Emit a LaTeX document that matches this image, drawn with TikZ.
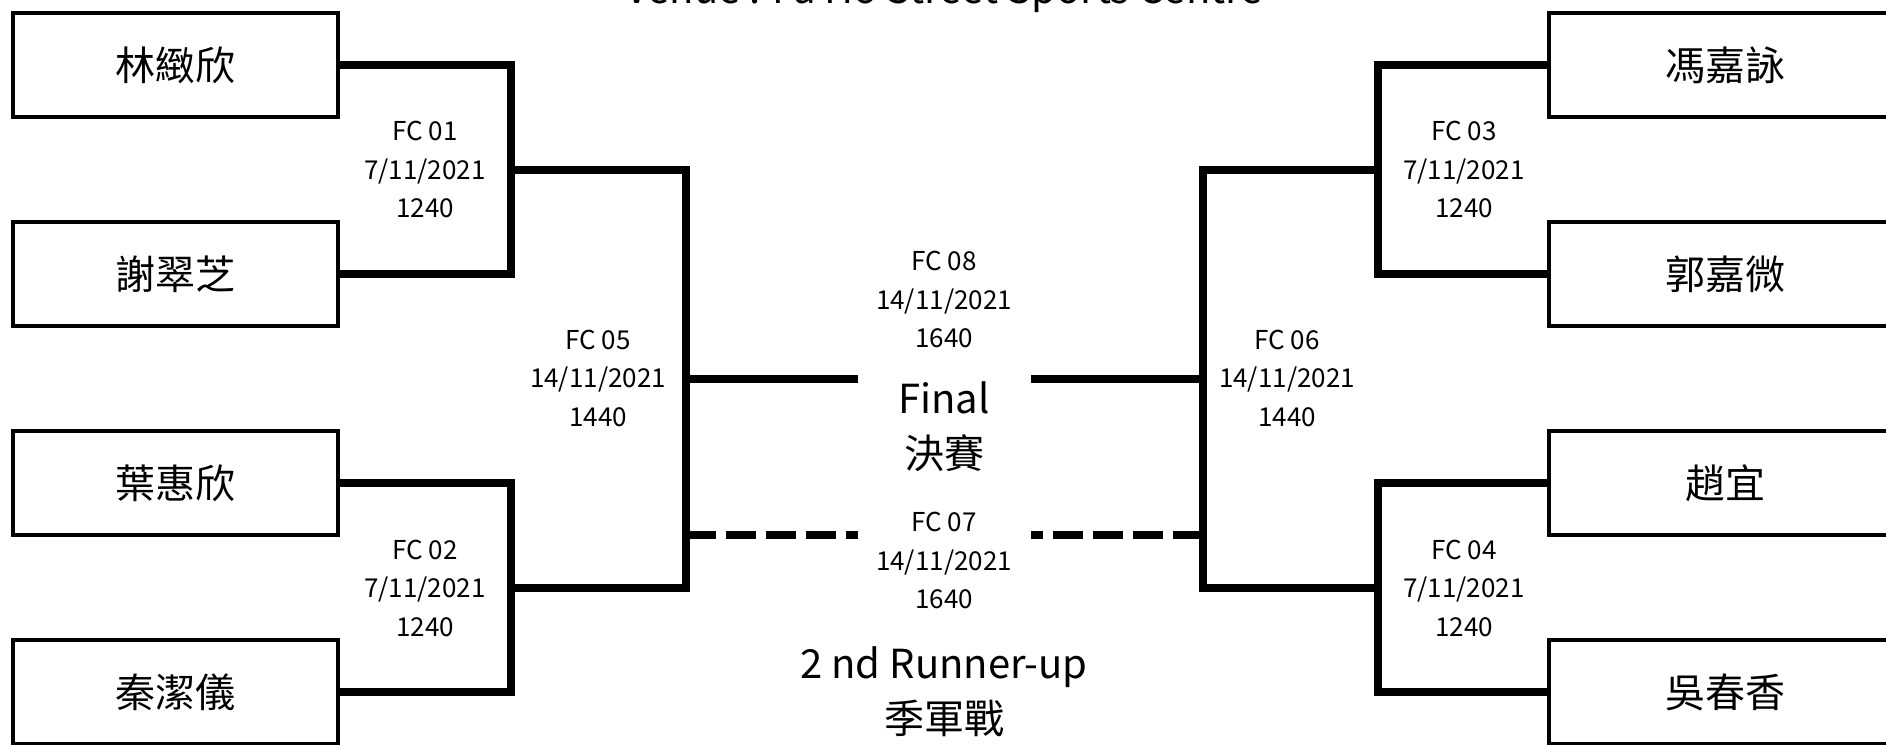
\documentclass[tikz,border=0pt]{standalone}
\usepackage{fontspec}
\setmainfont{Noto Sans CJK TC}
\begin{document}
\begin{tikzpicture}[x=1pt,y=-1pt,
  namebox/.style={draw,line width=4pt,minimum width=325pt,minimum height=104pt,inner sep=0pt,font=\fontsize{40}{48}\selectfont},
  conn/.style={line width=8pt,line join=miter},
  dashconn/.style={line width=8pt,dash pattern=on 30pt off 10pt},
  info/.style={align=center,font=\fontsize{26}{38.5}\selectfont,inner sep=0pt},
  big/.style={align=center,font=\fontsize{40}{55}\selectfont,inner sep=0pt}]
\clip (0,0) rectangle (1886,744);
% title
\node[anchor=base,inner sep=0pt,font=\fontsize{40}{48}\selectfont] (title) at (944,4) {Venue : Fa Ho Street Sports Centre};
% left players
\node[namebox] (a1) at (175.5,65) {林緻欣};
\node[namebox] (a2) at (175.5,274) {謝翠芝};
\node[namebox] (a3) at (175.5,483) {葉惠欣};
\node[namebox] (a4) at (175.5,692) {秦潔儀};
% right players
\node[namebox,minimum width=352pt] (b1) at (1725,65) {馮嘉詠};
\node[namebox,minimum width=352pt] (b2) at (1725,274) {郭嘉微};
\node[namebox,minimum width=352pt] (b3) at (1725,483) {趙宜};
\node[namebox,minimum width=352pt] (b4) at (1725,692) {吳春香};
% junctions
\coordinate (j1) at (511,170);
\coordinate (j2) at (511,588);
\coordinate (j5) at (686,379);
\coordinate (fL) at (858,379);
\coordinate (sL) at (686,535);
\coordinate (sLe) at (858,535);
\coordinate (j3) at (1378,170);
\coordinate (j4) at (1378,588);
\coordinate (j6) at (1203,379);
\coordinate (fR) at (1031,379);
\coordinate (sR) at (1203,535);
\coordinate (sRe) at (1031,535);
% left bracket
\draw[conn] (a1.east) -| (j1) |- (a2.east);
\draw[conn] (a3.east) -| (j2) |- (a4.east);
\draw[conn] (j1) -| (j5) |- (j2);
\draw[conn] (j5) -- (fL);
\draw[dashconn] (sL) -- (sLe);
% right bracket
\draw[conn] (b1.west) -| (j3) |- (b2.west);
\draw[conn] (b3.west) -| (j4) |- (b4.west);
\draw[conn] (j3) -| (j6) |- (j4);
\draw[conn] (j6) -- (fR);
\draw[dashconn] (sR) -- (sRe);
% match labels
\node[info] (fc01) at (425,169.6) {FC 01\\7/11/2021\\1240};
\node[info] (fc02) at (425,588) {FC 02\\7/11/2021\\1240};
\node[info] (fc05) at (598,378) {FC 05\\14/11/2021\\1440};
\node[info] (fc08) at (944,299.5) {FC 08\\14/11/2021\\1640};
\node[info] (fc07) at (944,560.5) {FC 07\\14/11/2021\\1640};
\node[info] (fc06) at (1287,378) {FC 06\\14/11/2021\\1440};
\node[info] (fc03) at (1464,169.6) {FC 03\\7/11/2021\\1240};
\node[info] (fc04) at (1464,588) {FC 04\\7/11/2021\\1240};
% round titles
\node[big] (final) at (944,427) {Final\\決賽};
\node[big] (third) at (944,692) {2 nd Runner-up\\季軍戰};
\end{tikzpicture}
\end{document}
